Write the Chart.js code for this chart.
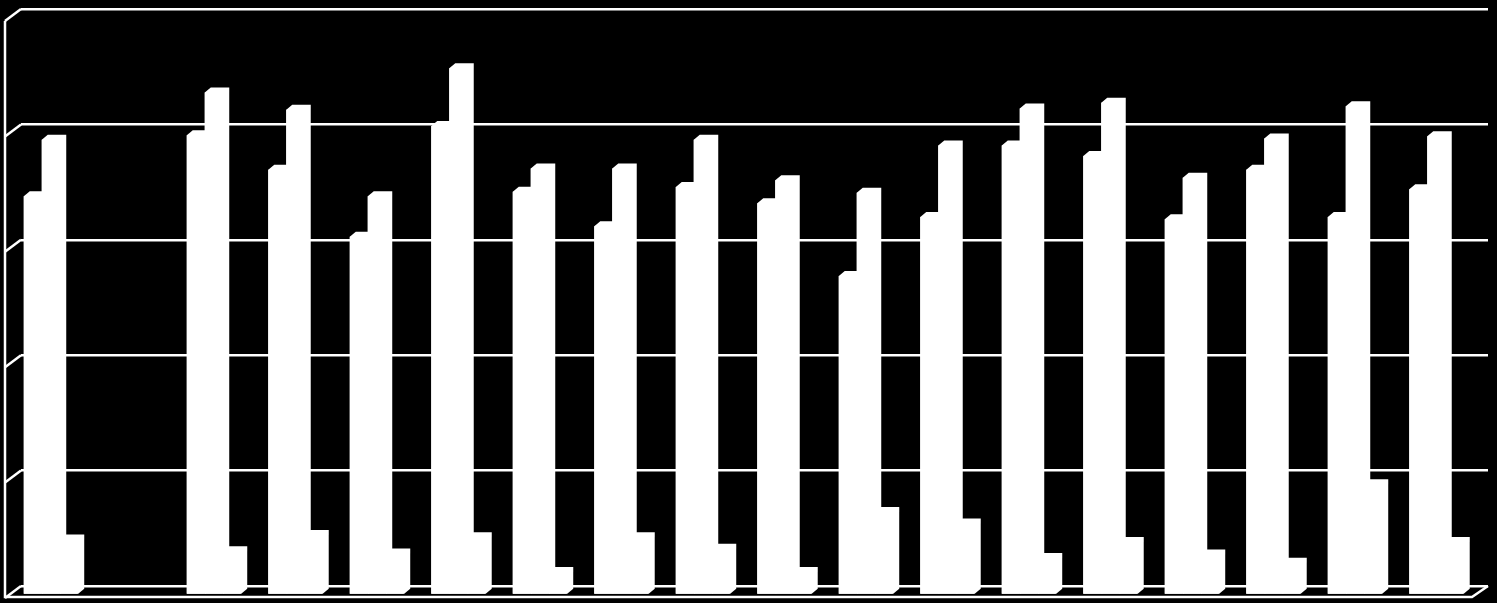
<!DOCTYPE html>
<html>
<head>
<meta charset="utf-8">
<title>Chart</title>
<script src="https://cdn.jsdelivr.net/npm/chart.js@4/dist/chart.umd.min.js"></script>
<style>
    html, body { margin: 0; padding: 0; background: #000; overflow: hidden; }
    canvas { display: block; }
</style>
</head>
<body>
<canvas id="grafico" width="1497" height="603"></canvas>
<script>
// Dados (o grupo 2 não tem barras)
const categories = ['1', '2', '3', '4', '5', '6', '7', '8', '9', '10', '11', '12', '13', '14', '15', '16', '17', '18'];
const serieA = [34.55, null, 39.85, 36.85, 31.05, 40.65, 34.95, 31.95, 35.35, 33.95, 27.65, 32.75, 38.95, 38.05, 32.55, 36.85, 32.75, 35.15];
const serieB = [39.45, null, 43.55, 42.05, 34.55, 45.65, 36.95, 36.95, 39.45, 35.95, 34.85, 38.95, 42.15, 42.65, 36.15, 39.55, 42.35, 39.75];
const serieC = [4.8, null, 3.8, 5.2, 3.6, 5.0, 2.0, 5.0, 4.0, 2.0, 7.2, 6.2, 3.2, 4.6, 3.5, 2.8, 9.6, 4.6];
const yMax = 50;
const yStep = 10;

// Perspectiva falsa: quanto o plano da frente desce/recua em relação à parede
const wallDx = 16, wallDy = 12;   // caixa do gráfico
const barDx = 6, barDy = 5;       // profundidade de cada barra
const planeDx = -11, planeDy = 9; // onde as barras ficam dentro da caixa

const fake3d = {
    id: 'fake3d',
    beforeDatasetsDraw(chart) {
        const ctx = chart.ctx;
        const area = chart.chartArea;
        const y = chart.scales.y;

        // Parede esquerda, chão e as diagonais de cada linha de grade
        ctx.save();
        ctx.strokeStyle = '#fff';
        ctx.lineWidth = 2.5;
        ctx.lineJoin = 'miter';
        y.ticks.forEach(t => {
            const py = y.getPixelForValue(t.value);
            ctx.beginPath();
            ctx.moveTo(area.left, py);
            ctx.lineTo(area.left - wallDx, py + wallDy);
            ctx.stroke();
        });
        ctx.beginPath();
        ctx.moveTo(area.left - wallDx, y.getPixelForValue(yMax) + wallDy);
        ctx.lineTo(area.left - wallDx, area.bottom + wallDy - 1);
        ctx.lineTo(area.right - wallDx, area.bottom + wallDy - 1);
        ctx.lineTo(area.right, area.bottom);
        ctx.stroke();
        ctx.restore();

        // Desloca as barras e desenha a lateral/topo antes da face frontal
        ctx.save();
        ctx.translate(planeDx, planeDy);
        ctx.fillStyle = '#fff';
        chart.data.datasets.forEach((ds, i) => {
            chart.getDatasetMeta(i).data.forEach((bar, j) => {
                if (ds.data[j] === null) return;
                const x0 = bar.x - bar.width / 2;
                const x1 = bar.x + bar.width / 2 + 0.5;
                ctx.beginPath();
                ctx.moveTo(x0, bar.y);
                ctx.lineTo(x0 + barDx, bar.y - barDy);
                ctx.lineTo(x1 + barDx, bar.y - barDy);
                ctx.lineTo(x1 + barDx, bar.base - barDy);
                ctx.lineTo(x1, bar.base);
                ctx.lineTo(x0, bar.base);
                ctx.closePath();
                ctx.fill();
            });
        });
    },
    afterDatasetsDraw(chart) {
        chart.ctx.restore();
    }
};

function barDataset(values) {
    return {
        data: values,
        backgroundColor: '#fff',
        borderWidth: 0,
        clip: false,
        barPercentage: 1,
        categoryPercentage: 0.662
    };
}

new Chart(document.getElementById('grafico').getContext('2d'), {
    type: 'bar',
    data: {
        labels: categories,
        datasets: [barDataset(serieA), barDataset(serieB), barDataset(serieC)]
    },
    options: {
        responsive: false,
        animation: false,
        layout: { padding: { left: 21, right: 9, top: 9, bottom: 17 } },
        plugins: { legend: { display: false }, tooltip: { enabled: false }, title: { display: false } },
        scales: {
            // eixo x sem rótulos na imagem: escondido para não roubar altura da área
            x: { display: false },
            y: {
                min: 0,
                max: yMax,
                ticks: { display: false, stepSize: yStep },
                border: { display: false },
                grid: { color: '#fff', lineWidth: 2.5, drawTicks: false }
            }
        }
    },
    plugins: [fake3d]
});
</script>
</body>
</html>
